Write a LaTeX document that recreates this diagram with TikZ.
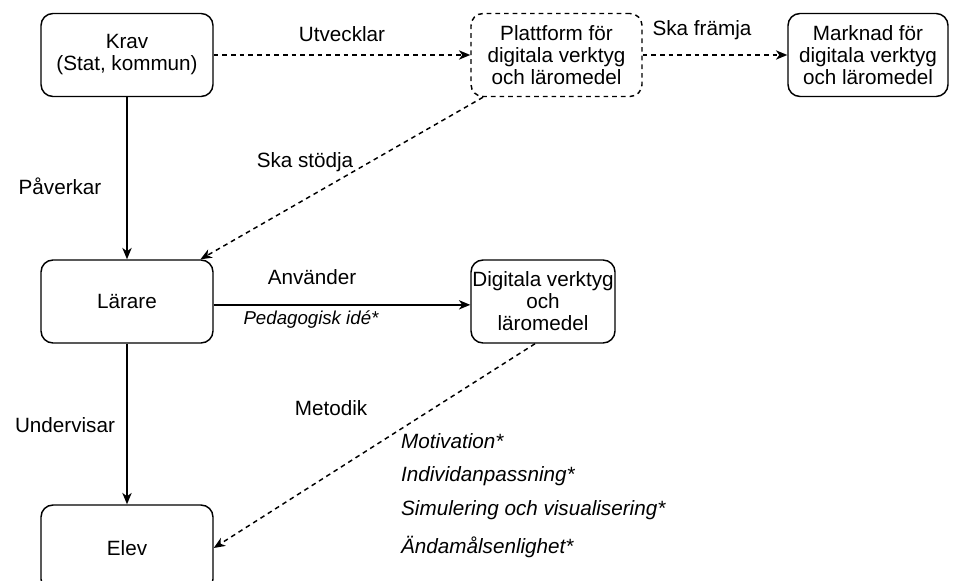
\documentclass[tikz,border=0pt]{standalone}
\usepackage{fontspec}
\setmainfont{Liberation Sans}
\usetikzlibrary{arrows.meta}

\tikzset{every picture/.style={line width=1.1pt}}
\tikzset{boks/.style={draw, rounded corners=9pt, align=center, minimum height=62.25pt, font=\fontsize{15.5}{16.5}\selectfont}}
\tikzset{etikett/.style={font=\fontsize{15.5}{16.5}\selectfont}}
\tikzset{kursiv/.style={font=\fontsize{15.5}{16.5}\selectfont\itshape}}
\tikzset{streckad/.style={dash pattern=on 3.5pt off 3pt}}

\begin{document}
\begin{tikzpicture}[x=0.75pt,y=0.75pt,yscale=-1,xscale=1,>={Stealth[length=8.5pt,width=7pt,inset=2.5pt]}]

\useasboundingbox (0,0) rectangle (960,581);

\node (krav) [boks, minimum width=129pt] at (127,55) {Krav\\(Stat, kommun)};
\node (plattform) [boks, streckad, minimum width=128.25pt] at (556.5,55) {Plattform för\\digitala verktyg\\och läromedel};
\node (marknad) [boks, minimum width=120pt] at (868,55) {Marknad för\\digitala verktyg\\och läromedel};
\node (larare) [boks, minimum width=129pt] at (127,301.5) {Lärare};
\node (verktyg) [boks, minimum width=108pt, inner xsep=1pt] at (543,301.5) {Digitala verktyg\\och\\läromedel};
\node (elev) [boks, minimum width=129pt, minimum height=64.5pt] at (127,548) {Elev};

\draw [->, streckad] (krav) -- (plattform) ;
\draw [->, streckad] (plattform) -- (marknad) ;
\draw [->, streckad] (plattform) -- (larare) ;
\draw [->] (krav) -- (larare) ;
\draw [->] ([yshift=2.5pt]larare.east) -- ([yshift=2.5pt]verktyg.west) ;
\draw [->, streckad] ([xshift=-6pt]verktyg.south) -- (elev.east) ;
\draw [->] (larare) -- (elev) ;

\node (utvecklar) [etikett] at (342,34) {Utvecklar};
\node (framja) [etikett] at (702,30) {Ska främja};
\node (stodja) [etikett] at (305,162) {Ska stödja};
\node (paverkar) [etikett] at (60,186) {Påverkar};
\node (anvander) [etikett] at (312,277) {Använder};
\node (pedagogisk) [kursiv, font=\fontsize{14}{15}\selectfont\itshape] at (311,320) {Pedagogisk idé*};
\node (metodik) [etikett] at (331,408) {Metodik};
\node (undervisar) [etikett] at (65,425) {Undervisar};

\node (motivation) [kursiv, anchor=west] at (396,441) {Motivation*};
\node (individ) [kursiv, anchor=west] at (396,476) {Individanpassning*};
\node (simulering) [kursiv, anchor=west] at (396,510) {Simulering och visualisering*};
\node (andamal) [kursiv, anchor=west] at (396,547) {Ändamålsenlighet*};

\end{tikzpicture}
\end{document}
